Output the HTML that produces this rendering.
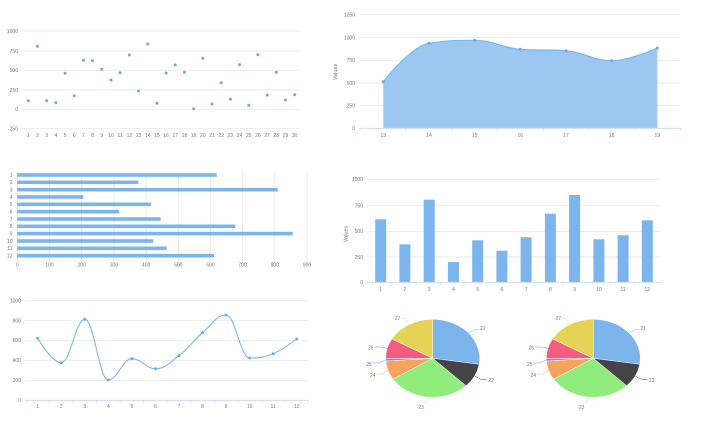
<!DOCTYPE html>
<html><head><meta charset="utf-8"><style>
html,body{margin:0;padding:0;background:#fff;}
svg{display:block;}
text{font-family:"Liberation Sans",sans-serif;fill:#777;font-size:5px;}
</style></head><body>
<svg width="708" height="424" viewBox="0 0 708 424" xmlns="http://www.w3.org/2000/svg">
<!-- ============ SCATTER (top-left) ============ -->
<g stroke="#e3e3e3" stroke-width="0.7">
<line x1="23" y1="31" x2="300" y2="31"/>
<line x1="23" y1="51" x2="300" y2="51"/>
<line x1="23" y1="70.3" x2="300" y2="70.3"/>
<line x1="23" y1="90" x2="300" y2="90"/>
<line x1="23" y1="109.3" x2="300" y2="109.3"/>
<line x1="23" y1="128.7" x2="300" y2="128.7"/>
</g>
<g text-anchor="end">
<text x="18" y="32.8">1000</text><text x="18" y="52.8">750</text><text x="18" y="72.1">500</text>
<text x="18" y="91.8">250</text><text x="18" y="111.1">0</text><text x="18" y="130.5">-250</text>
</g>
<g text-anchor="middle">
<text x="28.3" y="137">1</text><text x="37.49" y="137">2</text><text x="46.67" y="137">3</text><text x="55.86" y="137">4</text><text x="65.04" y="137">5</text><text x="74.23" y="137">6</text><text x="83.42" y="137">7</text><text x="92.6" y="137">8</text><text x="101.79" y="137">9</text><text x="110.97" y="137">10</text><text x="120.16" y="137">11</text><text x="129.35" y="137">12</text><text x="138.53" y="137">13</text><text x="147.72" y="137">14</text><text x="156.9" y="137">15</text><text x="166.09" y="137">16</text><text x="175.28" y="137">17</text><text x="184.46" y="137">18</text><text x="193.65" y="137">19</text><text x="202.83" y="137">20</text><text x="212.02" y="137">21</text><text x="221.21" y="137">22</text><text x="230.39" y="137">23</text><text x="239.58" y="137">24</text><text x="248.76" y="137">25</text><text x="257.95" y="137">26</text><text x="267.14" y="137">27</text><text x="276.32" y="137">28</text><text x="285.51" y="137">29</text><text x="294.7" y="137">30</text>
</g>
<g fill="#6fa8e0">
<circle cx="28.3" cy="100.7" r="1.5"/><circle cx="37.49" cy="46.3" r="1.5"/><circle cx="46.67" cy="100.7" r="1.5"/><circle cx="55.86" cy="102.7" r="1.5"/><circle cx="65.04" cy="73.3" r="1.5"/><circle cx="74.23" cy="95.7" r="1.5"/><circle cx="83.42" cy="60.3" r="1.5"/><circle cx="92.6" cy="60.7" r="1.5"/><circle cx="101.79" cy="69.3" r="1.5"/><circle cx="110.97" cy="80" r="1.5"/><circle cx="120.16" cy="72.7" r="1.5"/><circle cx="129.35" cy="55" r="1.5"/><circle cx="138.53" cy="91" r="1.5"/><circle cx="147.72" cy="44" r="1.5"/><circle cx="156.9" cy="103.3" r="1.5"/><circle cx="166.09" cy="73" r="1.5"/><circle cx="175.28" cy="65" r="1.5"/><circle cx="184.46" cy="72.3" r="1.5"/><circle cx="193.65" cy="108.7" r="1.5"/><circle cx="202.83" cy="58.3" r="1.5"/><circle cx="212.02" cy="104" r="1.5"/><circle cx="221.21" cy="82.7" r="1.5"/><circle cx="230.39" cy="99.3" r="1.5"/><circle cx="239.58" cy="64.7" r="1.5"/><circle cx="248.76" cy="105.3" r="1.5"/><circle cx="257.95" cy="54.7" r="1.5"/><circle cx="267.14" cy="95" r="1.5"/><circle cx="276.32" cy="72.3" r="1.5"/><circle cx="285.51" cy="100" r="1.5"/><circle cx="294.7" cy="94.7" r="1.5"/>
</g>

<!-- ============ AREA (top-right) ============ -->
<g stroke="#e3e3e3" stroke-width="0.7">
<line x1="360" y1="14.7" x2="680" y2="14.7"/>
<line x1="360" y1="37.7" x2="680" y2="37.7"/>
<line x1="360" y1="60.3" x2="680" y2="60.3"/>
<line x1="360" y1="83" x2="680" y2="83"/>
<line x1="360" y1="105.7" x2="680" y2="105.7"/>
</g>
<path d="M383.3 81.7 C383.3 81.7,410.7 46.3,428.97 43.3 C447.24 40.3,456.36 40.3,474.63 40.3 C492.9 40.3,502.03 47.9,520.3 49.3 C538.57 50.7,547.7 49.3,565.97 50.7 C584.24 52.1,593.36 60.7,611.63 60.7 C629.9 60.7,657.3 48,657.3 48 L657.3 128.3 L383.3 128.3 Z" fill="#9cc7f0" stroke="none"/>
<path d="M383.3 81.7 C383.3 81.7,410.7 46.3,428.97 43.3 C447.24 40.3,456.36 40.3,474.63 40.3 C492.9 40.3,502.03 47.9,520.3 49.3 C538.57 50.7,547.7 49.3,565.97 50.7 C584.24 52.1,593.36 60.7,611.63 60.7 C629.9 60.7,657.3 48,657.3 48" fill="none" stroke="#7cb5ec" stroke-width="1.2"/>
<g fill="#6fa8e0">
<circle cx="383.3" cy="81.7" r="1.5"/><circle cx="428.97" cy="43.3" r="1.5"/><circle cx="474.63" cy="40.3" r="1.5"/><circle cx="520.3" cy="49.3" r="1.5"/><circle cx="565.97" cy="50.7" r="1.5"/><circle cx="611.63" cy="60.7" r="1.5"/><circle cx="657.3" cy="48" r="1.5"/>
</g>
<line x1="360" y1="128.3" x2="680.7" y2="128.3" stroke="#ccd6eb" stroke-width="0.8"/>
<g stroke="#ccd6eb" stroke-width="0.6">
<line x1="360" y1="128.3" x2="360" y2="131"/><line x1="406" y1="128.3" x2="406" y2="131"/><line x1="451.7" y1="128.3" x2="451.7" y2="131"/><line x1="497.7" y1="128.3" x2="497.7" y2="131"/><line x1="543.3" y1="128.3" x2="543.3" y2="131"/><line x1="589" y1="128.3" x2="589" y2="131"/><line x1="635" y1="128.3" x2="635" y2="131"/><line x1="680.7" y1="128.3" x2="680.7" y2="131"/>
</g>
<g text-anchor="end">
<text x="355" y="16.5">1250</text><text x="355" y="39.5">1000</text><text x="355" y="62.1">750</text><text x="355" y="84.8">500</text><text x="355" y="107.5">250</text><text x="355" y="130.1">0</text>
</g>
<text x="0" y="0" text-anchor="middle" transform="translate(337,72) rotate(-90)" style="font-size:5.5px">Values</text>
<g text-anchor="middle">
<text x="383.3" y="137">13</text><text x="429" y="137">14</text><text x="474.6" y="137">15</text><text x="520.3" y="137">16</text><text x="566" y="137">17</text><text x="611.6" y="137">18</text><text x="657.3" y="137">19</text>
</g>

<!-- ============ HORIZONTAL BAR (middle-left) ============ -->
<rect x="17.3" y="245" width="193" height="17" fill="#fcfbf4"/>
<g stroke="#e3e3e3" stroke-width="0.7">
<line x1="49.5" y1="171.5" x2="49.5" y2="261.7"/><line x1="81.7" y1="171.5" x2="81.7" y2="261.7"/><line x1="113.9" y1="171.5" x2="113.9" y2="261.7"/><line x1="146.1" y1="171.5" x2="146.1" y2="261.7"/><line x1="178.3" y1="171.5" x2="178.3" y2="261.7"/><line x1="210.4" y1="171.5" x2="210.4" y2="261.7"/><line x1="242.6" y1="171.5" x2="242.6" y2="261.7"/><line x1="274.8" y1="171.5" x2="274.8" y2="261.7"/><line x1="307" y1="171.5" x2="307" y2="261.7"/>
</g>
<line x1="17.3" y1="171.5" x2="17.3" y2="261.7" stroke="#ccd6eb" stroke-width="0.7"/>
<g fill="#7cb5ec">
<rect x="17.3" y="173.2" width="199.4" height="3.6"/>
<rect x="17.3" y="180.5" width="121" height="3.6"/>
<rect x="17.3" y="187.9" width="260.4" height="3.6"/>
<rect x="17.3" y="195.2" width="66" height="3.6"/>
<rect x="17.3" y="202.5" width="133.4" height="3.6"/>
<rect x="17.3" y="209.9" width="101.7" height="3.6"/>
<rect x="17.3" y="217.2" width="143.4" height="3.6"/>
<rect x="17.3" y="224.5" width="218" height="3.6"/>
<rect x="17.3" y="231.8" width="275.4" height="3.6"/>
<rect x="17.3" y="239.2" width="136" height="3.6"/>
<rect x="17.3" y="246.5" width="149.4" height="3.6"/>
<rect x="17.3" y="253.9" width="196.7" height="3.6"/>
</g>
<g text-anchor="end">
<text x="12.5" y="176.8">1</text><text x="12.5" y="184.1">2</text><text x="12.5" y="191.5">3</text><text x="12.5" y="198.8">4</text><text x="12.5" y="206.1">5</text><text x="12.5" y="213.5">6</text><text x="12.5" y="220.8">7</text><text x="12.5" y="228.1">8</text><text x="12.5" y="235.4">9</text><text x="12.5" y="242.8">10</text><text x="12.5" y="250.1">11</text><text x="12.5" y="257.5">12</text>
</g>
<g text-anchor="middle">
<text x="17.3" y="266.5">0</text><text x="49.5" y="266.5">100</text><text x="81.7" y="266.5">200</text><text x="113.9" y="266.5">300</text><text x="146.1" y="266.5">400</text><text x="178.3" y="266.5">500</text><text x="210.4" y="266.5">600</text><text x="242.6" y="266.5">700</text><text x="274.8" y="266.5">800</text><text x="307" y="266.5">900</text>
</g>

<!-- ============ COLUMN (middle-right) ============ -->
<g stroke="#e3e3e3" stroke-width="0.7">
<line x1="367.7" y1="179.3" x2="660" y2="179.3"/>
<line x1="367.7" y1="205.7" x2="660" y2="205.7"/>
<line x1="367.7" y1="231.3" x2="660" y2="231.3"/>
<line x1="367.7" y1="257" x2="660" y2="257"/>
</g>
<g fill="#7cb5ec">
<rect x="375.2" y="219.3" width="11" height="63"/>
<rect x="399.4" y="244.3" width="11" height="38"/>
<rect x="423.7" y="199.7" width="11" height="82.6"/>
<rect x="447.9" y="262" width="11" height="20.3"/>
<rect x="472.2" y="240.3" width="11" height="42"/>
<rect x="496.4" y="250.7" width="11" height="31.6"/>
<rect x="520.6" y="237.3" width="11" height="45"/>
<rect x="544.9" y="213.7" width="11" height="68.6"/>
<rect x="569.1" y="195" width="11" height="87.3"/>
<rect x="593.4" y="239.3" width="11" height="43"/>
<rect x="617.6" y="235.3" width="11" height="47"/>
<rect x="641.8" y="220.3" width="11" height="62"/>
</g>
<line x1="367.7" y1="282.3" x2="660" y2="282.3" stroke="#ccd6eb" stroke-width="0.8"/>
<g stroke="#ccd6eb" stroke-width="0.6">
<line x1="367.7" y1="282.3" x2="367.7" y2="285"/><line x1="392.1" y1="282.3" x2="392.1" y2="285"/><line x1="416.4" y1="282.3" x2="416.4" y2="285"/><line x1="440.8" y1="282.3" x2="440.8" y2="285"/><line x1="465.1" y1="282.3" x2="465.1" y2="285"/><line x1="489.5" y1="282.3" x2="489.5" y2="285"/><line x1="513.9" y1="282.3" x2="513.9" y2="285"/><line x1="538.2" y1="282.3" x2="538.2" y2="285"/><line x1="562.6" y1="282.3" x2="562.6" y2="285"/><line x1="586.9" y1="282.3" x2="586.9" y2="285"/><line x1="611.3" y1="282.3" x2="611.3" y2="285"/><line x1="635.6" y1="282.3" x2="635.6" y2="285"/><line x1="660" y1="282.3" x2="660" y2="285"/>
</g>
<g text-anchor="end">
<text x="363" y="181.1">1000</text><text x="363" y="207.5">750</text><text x="363" y="233.1">500</text><text x="363" y="258.8">250</text><text x="363" y="284.1">0</text>
</g>
<text x="0" y="0" text-anchor="middle" transform="translate(347.5,234) rotate(-90)" style="font-size:5.5px">Values</text>
<g text-anchor="middle">
<text x="380.7" y="291">1</text><text x="404.9" y="291">2</text><text x="429.2" y="291">3</text><text x="453.4" y="291">4</text><text x="477.7" y="291">5</text><text x="501.9" y="291">6</text><text x="526.1" y="291">7</text><text x="550.4" y="291">8</text><text x="574.6" y="291">9</text><text x="598.9" y="291">10</text><text x="623.1" y="291">11</text><text x="647.3" y="291">12</text>
</g>

<!-- ============ SPLINE (bottom-left) ============ -->
<g stroke="#e3e3e3" stroke-width="0.7">
<line x1="25" y1="300.7" x2="308" y2="300.7"/>
<line x1="25" y1="320.7" x2="308" y2="320.7"/>
<line x1="25" y1="340.3" x2="308" y2="340.3"/>
<line x1="25" y1="360.3" x2="308" y2="360.3"/>
<line x1="25" y1="380.3" x2="308" y2="380.3"/>
</g>
<line x1="25" y1="400.3" x2="308" y2="400.3" stroke="#ccd6eb" stroke-width="0.8"/>
<g stroke="#ccd6eb" stroke-width="0.6">
<line x1="25.9" y1="400.3" x2="25.9" y2="403"/><line x1="49.5" y1="400.3" x2="49.5" y2="403"/><line x1="73" y1="400.3" x2="73" y2="403"/><line x1="96.6" y1="400.3" x2="96.6" y2="403"/><line x1="120.1" y1="400.3" x2="120.1" y2="403"/><line x1="143.7" y1="400.3" x2="143.7" y2="403"/><line x1="167.2" y1="400.3" x2="167.2" y2="403"/><line x1="190.7" y1="400.3" x2="190.7" y2="403"/><line x1="214.3" y1="400.3" x2="214.3" y2="403"/><line x1="237.8" y1="400.3" x2="237.8" y2="403"/><line x1="261.4" y1="400.3" x2="261.4" y2="403"/><line x1="284.9" y1="400.3" x2="284.9" y2="403"/><line x1="308" y1="400.3" x2="308" y2="403"/>
</g>
<path d="M37.7 338.3 C37.7 338.3,51.83 362.7,61.25 362.7 C70.67 362.7,75.37 319.3,84.79 319.3 C94.21 319.3,98.92 380,108.34 380 C117.76 380,122.46 358.7,131.88 358.7 C141.3 358.7,146.01 368.7,155.43 368.7 C164.85 368.7,169.55 362.9,178.97 355.7 C188.39 348.5,193.1 340.84,202.52 332.7 C211.94 324.56,216.64 315,226.06 315 C235.48 315,240.19 358,249.61 358 C259.03 358,263.73 357.5,273.15 353.7 C282.57 349.9,296.7 339,296.7 339" fill="none" stroke="#7cb5ec" stroke-width="1.1"/>
<g fill="#6fa8e0">
<circle cx="37.7" cy="338.3" r="1.5"/><circle cx="61.25" cy="362.7" r="1.5"/><circle cx="84.79" cy="319.3" r="1.5"/><circle cx="108.34" cy="380" r="1.5"/><circle cx="131.88" cy="358.7" r="1.5"/><circle cx="155.43" cy="368.7" r="1.5"/><circle cx="178.97" cy="355.7" r="1.5"/><circle cx="202.52" cy="332.7" r="1.5"/><circle cx="226.06" cy="315" r="1.5"/><circle cx="249.61" cy="358" r="1.5"/><circle cx="273.15" cy="353.7" r="1.5"/><circle cx="296.7" cy="339" r="1.5"/>
</g>
<g text-anchor="end">
<text x="21" y="302.5">1000</text><text x="21" y="322.5">800</text><text x="21" y="342.1">600</text><text x="21" y="362.1">400</text><text x="21" y="382.1">200</text><text x="21" y="402.1">0</text>
</g>
<g text-anchor="middle">
<text x="37.7" y="408">1</text><text x="61.25" y="408">2</text><text x="84.79" y="408">3</text><text x="108.34" y="408">4</text><text x="131.88" y="408">5</text><text x="155.43" y="408">6</text><text x="178.97" y="408">7</text><text x="202.52" y="408">8</text><text x="226.06" y="408">9</text><text x="249.61" y="408">10</text><text x="273.15" y="408">11</text><text x="296.7" y="408">12</text>
</g>

<!-- ============ PIE 1 ============ -->
<g id="pie1" stroke="#fff" stroke-width="0.5">
<path d="M432.7 358.3 L432.7 319.3 A47 39 0 0 1 479.15 364.27 Z" fill="#7cb5ec"/>
<path d="M432.7 358.3 L479.15 364.27 A47 39 0 0 1 466.05 385.78 Z" fill="#434348"/>
<path d="M432.7 358.3 L466.05 385.78 A47 39 0 0 1 392.97 379.14 Z" fill="#90ed7d"/>
<path d="M432.7 358.3 L392.97 379.14 A47 39 0 0 1 385.81 361.02 Z" fill="#f7a35c"/>
<path d="M432.7 358.3 L385.81 361.02 A47 39 0 0 1 385.7 358.64 Z" fill="#8085e9"/>
<path d="M432.7 358.3 L385.7 358.64 A47 39 0 0 1 391.91 338.92 Z" fill="#f15c80"/>
<path d="M432.7 358.3 L391.91 338.92 A47 39 0 0 1 432.7 319.3 Z" fill="#e4d354"/>
</g>
<g fill="none" stroke-width="0.5">
<path d="M468.4 332.9 L474 329.5 L479.5 329.5" stroke="#7cb5ec"/>
<path d="M474.7 375.9 L481 379.5 L487 379.5" stroke="#434348"/>
<path d="M427.6 397.1 L426 402 L424 403" stroke="#90ed7d"/>
<path d="M388 370.4 L382 374 L376.5 374" stroke="#f7a35c"/>
<path d="M385.7 359.8 L379 363 L372.5 363" stroke="#8085e9"/>
<path d="M387.2 348.4 L381 347 L374.5 347" stroke="#f15c80"/>
<path d="M409.1 324.6 L405 318.5 L401.5 318" stroke="#e4d354"/>
</g>
<g text-anchor="middle" style="font-size:4.5px">
<text x="482.7" y="330">21</text><text x="491" y="382">22</text><text x="421" y="409">23</text><text x="372.7" y="377">24</text><text x="369" y="366">25</text><text x="370.7" y="349.4">26</text><text x="397.7" y="320">27</text>
</g>

<!-- ============ PIE 2 ============ -->
<g transform="translate(160.6,0)">
<g stroke="#fff" stroke-width="0.5">
<path d="M432.7 358.3 L432.7 319.3 A47 39 0 0 1 479.15 364.27 Z" fill="#7cb5ec"/>
<path d="M432.7 358.3 L479.15 364.27 A47 39 0 0 1 466.05 385.78 Z" fill="#434348"/>
<path d="M432.7 358.3 L466.05 385.78 A47 39 0 0 1 392.97 379.14 Z" fill="#90ed7d"/>
<path d="M432.7 358.3 L392.97 379.14 A47 39 0 0 1 385.81 361.02 Z" fill="#f7a35c"/>
<path d="M432.7 358.3 L385.81 361.02 A47 39 0 0 1 385.7 358.64 Z" fill="#8085e9"/>
<path d="M432.7 358.3 L385.7 358.64 A47 39 0 0 1 391.91 338.92 Z" fill="#f15c80"/>
<path d="M432.7 358.3 L391.91 338.92 A47 39 0 0 1 432.7 319.3 Z" fill="#e4d354"/>
</g>
<g fill="none" stroke-width="0.5">
<path d="M468.4 332.9 L474 329.5 L479.5 329.5" stroke="#7cb5ec"/>
<path d="M474.7 375.9 L481 379.5 L487 379.5" stroke="#434348"/>
<path d="M427.6 397.1 L426 402 L424 403" stroke="#90ed7d"/>
<path d="M388 370.4 L382 374 L376.5 374" stroke="#f7a35c"/>
<path d="M385.7 359.8 L379 363 L372.5 363" stroke="#8085e9"/>
<path d="M387.2 348.4 L381 347 L374.5 347" stroke="#f15c80"/>
<path d="M409.1 324.6 L405 318.5 L401.5 318" stroke="#e4d354"/>
</g>
<g text-anchor="middle" style="font-size:4.5px">
<text x="482.7" y="330">21</text><text x="491" y="382">22</text><text x="421" y="409">23</text><text x="372.7" y="377">24</text><text x="369" y="366">25</text><text x="370.7" y="349.4">26</text><text x="397.7" y="320">27</text>
</g>
</g>
</svg>
</body></html>
